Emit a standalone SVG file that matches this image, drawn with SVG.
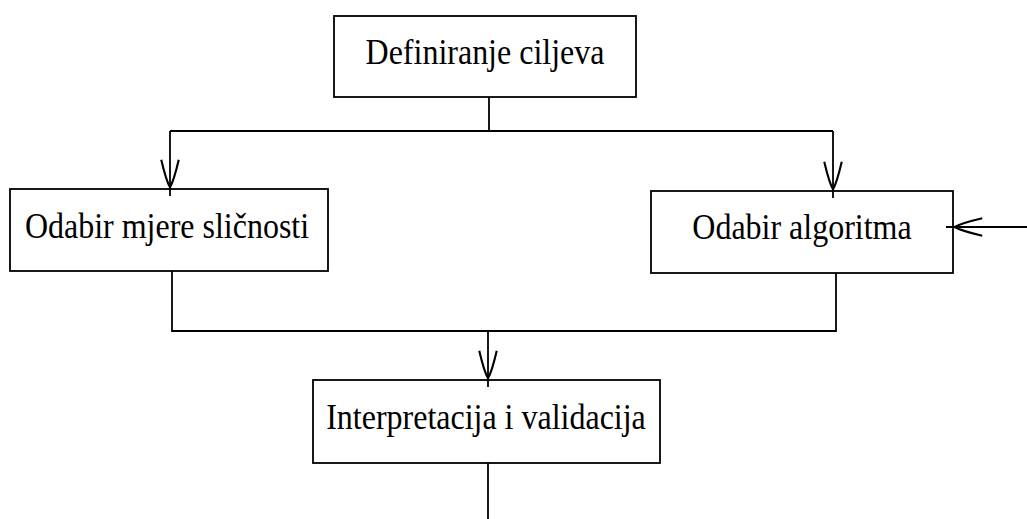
<svg xmlns="http://www.w3.org/2000/svg" width="1027" height="519" viewBox="0 0 1027 519">
<style>
.box{fill:#fff;stroke:#000;stroke-width:1.8}
.lbl{font-family:"Liberation Serif","Times New Roman",serif;font-size:32px;fill:#000;text-anchor:middle}
.c{fill:none;stroke:#000;stroke-width:1.8}
</style>
<defs>
<marker id="ah" markerUnits="userSpaceOnUse" markerWidth="40" markerHeight="30" refX="0" refY="0" viewBox="-30 -10 32 20" orient="auto" overflow="visible">
<path d="M-29,-7 Q-12,-3 -7,0 Q-12,3 -29,7" fill="none" stroke="#000" stroke-width="1.7"/>
</marker>
</defs>
<g id="n1"><rect class="box" x="334" y="16" width="302" height="81"/><text class="lbl" transform="translate(485,64) scale(1,1.13)">Definiranje ciljeva</text></g>
<g id="n2"><rect class="box" x="10" y="189" width="318" height="82"/><text class="lbl" transform="translate(167,238) scale(1,1.13)">Odabir mjere sličnosti</text></g>
<g id="n3"><rect class="box" x="651" y="191" width="302" height="82"/><text class="lbl" transform="translate(802,239) scale(1,1.13)">Odabir algoritma</text></g>
<g id="n4"><rect class="box" x="313" y="380" width="347" height="83"/><text class="lbl" transform="translate(486,429) scale(1,1.13)">Interpretacija i validacija</text></g>
<g id="connectors">
<path class="c" d="M489,97 V131"/>
<path class="c" d="M170,131 H833"/>
<path class="c" d="M170,131 V196" marker-end="url(#ah)"/>
<path class="c" d="M833,131 V198" marker-end="url(#ah)"/>
<path class="c" d="M172,271 V331 H836 V273"/>
<path class="c" d="M488,331 V387" marker-end="url(#ah)"/>
<path class="c" d="M1027,227 H946" marker-end="url(#ah)"/>
<path class="c" d="M488,463 V519"/>
</g>
</svg>
